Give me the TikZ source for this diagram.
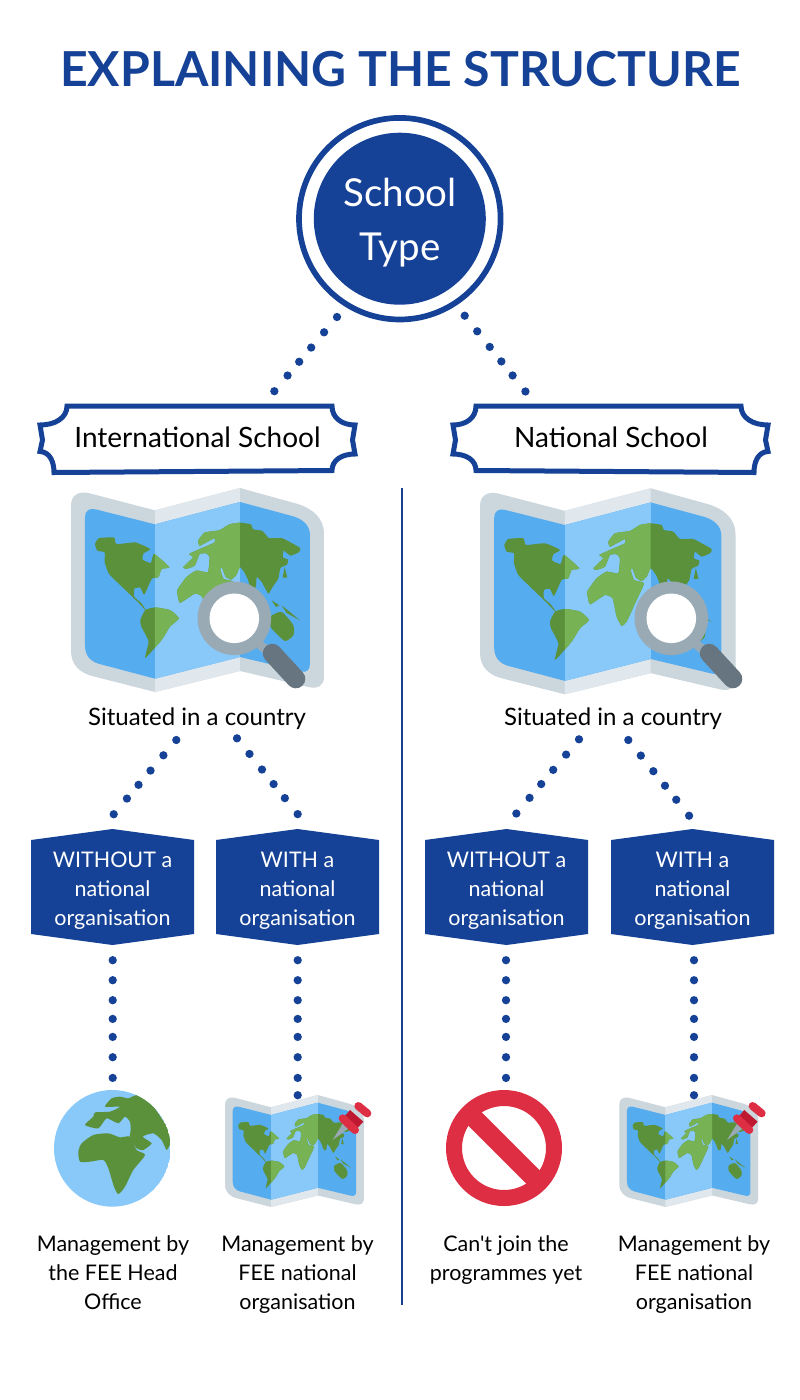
\documentclass[tikz,border=0pt]{standalone}
\usepackage{fontspec}
\setmainfont{Lato}
\newfontfamily\latoplain{Lato}
\definecolor{feeblue}{HTML}{154296}
\definecolor{mapgrey}{HTML}{CCD6DD}
\definecolor{maplight}{HTML}{E1E8ED}
\definecolor{seadark}{HTML}{55ACEE}
\definecolor{sealight}{HTML}{88C9F9}
\definecolor{landdark}{HTML}{5C913B}
\definecolor{landlight}{HTML}{77B255}
\definecolor{lensgrey}{HTML}{99AAB5}
\definecolor{handlegrey}{HTML}{66757F}
\definecolor{signred}{HTML}{DD2E44}
\definecolor{pindark}{HTML}{BE1931}
\tikzset{
  dotbase/.style={feeblue,line width=8.3pt,line cap=round},
  diagdots/.style={dotbase,dash pattern=on 0pt off 20pt on 0pt off 20pt on 0pt off 18.6pt on 0pt off 18pt on 0pt off 20.5pt on 0pt off 40pt},
  vertdots/.style={dotbase,dash pattern=on 0pt off 20pt on 0pt off 20pt on 0pt off 18.7pt on 0pt off 18pt on 0pt off 20.3pt on 0pt off 20.7pt on 0pt off 17.3pt on 0pt off 60pt},
  hexbox/.style={text=white,font=\fontsize{21.5}{29}\selectfont,align=center,minimum width=163pt,minimum height=94pt,inner sep=0pt},
  bannertext/.style={text=black,font=\fontsize{28}{34}\selectfont,minimum width=315pt,minimum height=66pt,inner sep=0pt},
  caption/.style={text=black,font=\fontsize{21.5}{29}\selectfont,align=center,inner sep=0pt},
  bigcaption/.style={text=black,font=\fontsize{24}{29}\selectfont,inner sep=0pt},
  iconbox/.style={inner sep=0pt,minimum width=#1pt,minimum height=#1pt}
}
\newcommand{\continents}{%
  \begin{scope}[shift={(123,293)},xscale=.99,yscale=.99,shift={(-120,-280)}]
  \fill plot[smooth cycle,tension=.3] coordinates {(193,450)(205,432)(250,430)(258,450)(315,445)(360,465)(340,478)(337,497)(362,507)(372,480)(418,520)(395,525)(385,550)(365,555)(342,603)(330,582)(312,585)(312,610)(332,628)(350,655)(325,628)(270,575)(235,540)(222,505)(222,475)(200,470)};
  \fill plot[smooth cycle,tension=.3] coordinates {(330,680)(345,650)(375,642)(420,650)(447,675)(420,700)(395,740)(345,795)(355,745)(333,700)};
  \fill plot[smooth cycle,tension=.25] coordinates {(632,385)(665,390)(672,405)(700,410)(720,432)(760,432)(815,462)(810,475)(785,485)(765,470)(762,490)(778,497)(775,512)(755,522)(748,555)(731,580)(718,600)(698,565)(683,550)(680,580)(668,585)(660,570)(655,555)(645,535)(632,520)(620,545)(605,558)(588,548)(578,522)(572,525)(582,555)(612,565)(590,615)(560,680)(545,693)(530,665)(518,610)(495,600)(450,628)(442,590)(470,550)(500,530)(535,535)(540,490)(530,478)(510,480)(495,515)(470,525)(460,520)(490,490)(478,480)(510,465)(555,445)(555,432)(530,445)(510,455)(505,440)(525,415)(570,408)(600,390)};
  \end{scope}
  \fill plot[smooth cycle,tension=.4] coordinates {(720,680)(755,665)(790,705)(790,735)(765,752)(735,725)(722,710)};
  \fill (725,630)--(748,645)--(738,650)--cycle;
  \fill (755,645)--(810,690)--(770,668)--cycle;
  \fill (764,530)--(772,562)--(758,562)--cycle;
}
% #1 x, #2 y, #3 scale relative to the reference pixels
\newcommand{\worldmap}[3]{%
  \begin{scope}[shift={(#1,#2)},x=#3*0.3333pt,y=-#3*0.3333pt,shift={(-123,-293)}]
    \def\outerpath{(123,345) .. controls (123,315) and (145,302) .. (175,308) -- (375,360) -- (630,293) -- (800,340) .. controls (850,355) and (882,385) .. (882,430) -- (882,860) .. controls (882,885) and (865,897) .. (835,890) -- (630,842) -- (375,905) -- (190,858) .. controls (150,848) and (123,825) .. (123,780) -- cycle}
    \def\innerpath{(165,380) .. controls (165,362) and (178,352) .. (197,357) -- (375,402) -- (630,335) -- (790,378) .. controls (820,388) and (840,405) .. (840,435) -- (840,820) .. controls (840,840) and (830,848) .. (810,843) -- (630,800) -- (375,865) -- (205,820) .. controls (180,812) and (165,795) .. (165,765) -- cycle}
    \fill[mapgrey] \outerpath;
    \begin{scope}\clip (375,280) rectangle (630,920); \fill[maplight] \outerpath; \end{scope}
    \begin{scope}\clip \innerpath;
      \fill[seadark] (100,280) rectangle (900,920);
      \fill[sealight] (375,280) rectangle (630,920);
      \begin{scope}[landdark]\continents\end{scope}
      \begin{scope}\clip (375,280) rectangle (630,920);
        \begin{scope}[landlight]\continents\end{scope}
      \end{scope}
    \end{scope}
  \end{scope}
}
% magnifier: centre of the lens, in reference pixels
\newcommand{\magnifier}[2]{%
  \begin{scope}[shift={(#1,#2)}]
    \draw[lensgrey,line width=9pt] (25,26) -- (37,36);
    \draw[handlegrey,line width=19pt,line cap=round] (38,35) -- (61.5,60.5);
    \fill[lensgrey] (0,0) circle (36.8);
    \fill[white] (0,0) circle (24.8);
  \end{scope}
}
% pin: upper-left corner of small map
\newcommand{\mappin}[2]{%
  \begin{scope}[shift={(#1,#2)},x=0.3333pt,y=-0.3333pt,shift={(-555,-45)}]
    \fill[lensgrey] (878,180) -- (912,125) -- (930,142) -- cycle;
    \fill[pindark] (930,90) -- (970,125) -- (945,152) -- (908,116) -- cycle;
    \draw[signred,line width=8pt,line cap=round] (908,115) -- (945,150);
    \draw[signred,line width=8pt,line cap=round] (955,78) -- (982,100);
  \end{scope}
}
\newcommand{\bannerpath}{(40,425) .. controls (55,425) and (67,418) .. (67,406) -- (332,406) .. controls (332,418) and (342,425) .. (355,425) -- (352.5,440) -- (355,454) .. controls (342,454) and (332,460) .. (332,470.5) -- (54,472.5) .. controls (54,462) and (50,452) .. (40,451.5) -- (42.5,440) -- cycle}
\newcommand{\hexshape}[1]{%
  \fill[feeblue,shift={(#1,0)}] (-81.5,840) -- (0,829) -- (81.5,840) -- (81.5,934) -- (0,945) -- (-81.5,934) -- cycle;
}
\begin{document}
\begin{tikzpicture}[x=1pt,y=-1pt]
\useasboundingbox (0,0) rectangle (800,1400);
\fill[white] (0,0) rectangle (800,1400);
\node[text=feeblue,font=\fontsize{48.2}{60}\bfseries\selectfont,inner sep=0pt] (title) at (400.5,69.5) {EXPLAINING THE STRUCTURE};
% school circle
\draw[feeblue,line width=5.7pt] (399.8,218.7) circle (100.8);
\fill[feeblue] (399.8,218.7) circle (86);
\node[text=white,font=\fontsize{38.5}{53.3}\selectfont,align=center,inner sep=0pt,minimum width=172pt] (school) at (400,222.7) {School\\Type};
% banners
\draw[feeblue,line width=5pt,fill=white] \bannerpath;
\draw[feeblue,line width=5pt,fill=white,shift={(808,0)},xscale=-1] \bannerpath;
\node[bannertext] (intl) at (197.5,437) {International School};
\node[bannertext] (natl) at (611,437) {National School};
% divider
\draw[feeblue,line width=2pt] (402,488) -- (402,1305);
% maps
\worldmap{71}{488}{1}
\magnifier{234.3}{618.3}
\worldmap{480}{488.3}{1.01}
\magnifier{671.3}{618.3}
\node[bigcaption] (sitl) at (197,719) {Situated in a country};
\node[bigcaption] (sitr) at (613,719) {Situated in a country};
% hexagons
\hexshape{112.5}\hexshape{297.5}\hexshape{506.5}\hexshape{692.5}
\node[hexbox] (hex1) at (112.5,890.5) {WITHOUT a\\national\\organisation};
\node[hexbox] (hex2) at (297.5,890.5) {WITH a\\national\\organisation};
\node[hexbox] (hex3) at (506.5,890.5) {WITHOUT a\\national\\organisation};
\node[hexbox] (hex4) at (692.5,890.5) {WITH a\\national\\organisation};
% bottom icons
\begin{scope}[shift={(40,1080)},x=.3333pt,y=-.3333pt]
  \begin{scope}
    \clip (217,205) circle (175);
    \fill[sealight] (217,205) circle (175);
    \fill[landdark] plot[smooth cycle,tension=.4] coordinates {(115,215)(125,190)(160,165)(205,160)(240,172)(270,170)(290,210)(315,225)(280,270)(255,320)(235,342)(222,320)(205,265)(190,240)(150,245)(120,245)};
    \fill[landdark] plot[smooth cycle,tension=.35] coordinates {(195,80)(215,55)(240,50)(265,55)(295,45)(340,80)(380,140)(392,185)(380,210)(365,180)(340,160)(308,170)(335,190)(310,210)(290,205)(270,172)(272,150)(270,125)(255,110)(235,130)(200,115)(175,145)(135,135)(160,110)(165,97)(210,95)(240,80)};
  \end{scope}
\end{scope}
\node[iconbox=117] (globe) at (112.3,1148.3) {};
\draw[signred,line width=16pt] (504,1148) circle (50);
\draw[signred,line width=19pt] (504,1148) ++(-32,-32) -- ++(64,64);
\node[iconbox=117] (stop) at (504,1148) {};
\worldmap{225}{1095}{.549}
\mappin{225}{1095}
\worldmap{619.3}{1095}{.549}
\mappin{619.3}{1095}
\node[iconbox=112] (pinl) at (294.5,1151) {};
\node[iconbox=112] (pinr) at (688.8,1151) {};
% captions
\node[caption] (capa) at (113,1273) {Management by\\the FEE Head\\Office};
\node[caption] (capb) at (297.5,1275) {Management by\\FEE national\\organisation};
\node[caption] (capc) at (506,1260) {{\latoplain Can't join the}\\programmes yet};
\node[caption] (capd) at (694,1275) {Management by\\FEE national\\organisation};
% dotted connectors
\draw[diagdots] ([shift={(-63,94.3)}]school.center) -- ([shift={(75.5,-11)}]intl.north);
\draw[diagdots] ([shift={(64.7,93)}]school.center) -- ([shift={(-84.5,-11)}]natl.north);
\draw[diagdots] ([shift={(-20.7,21)}]sitl.center) -- ([shift={(-.1,-27.5)}]hex1.north);
\draw[diagdots] ([shift={(40,19.3)}]sitl.center) -- ([shift={(1.5,-27.5)}]hex2.north);
\draw[diagdots] ([shift={(-34,20.3)}]sitr.center) -- ([shift={(8.5,-28.2)}]hex3.north);
\draw[diagdots] ([shift={(15.3,21)}]sitr.center) -- ([shift={(-2.3,-26.2)}]hex4.north);
\draw[vertdots] ([shift={(.2,22.5)}]hex1.south) -- ([shift={(.4,-10)}]globe.north);
\draw[vertdots] ([shift={(.2,22.5)}]hex2.south) -- ([shift={(3.2,2)}]pinl.north);
\draw[vertdots] ([shift={(-.5,22.5)}]hex3.south) -- ([shift={(2,-9.5)}]stop.north);
\draw[vertdots] ([shift={(1.5,22.5)}]hex4.south) -- ([shift={(5.2,2)}]pinr.north);
\end{tikzpicture}
\end{document}
